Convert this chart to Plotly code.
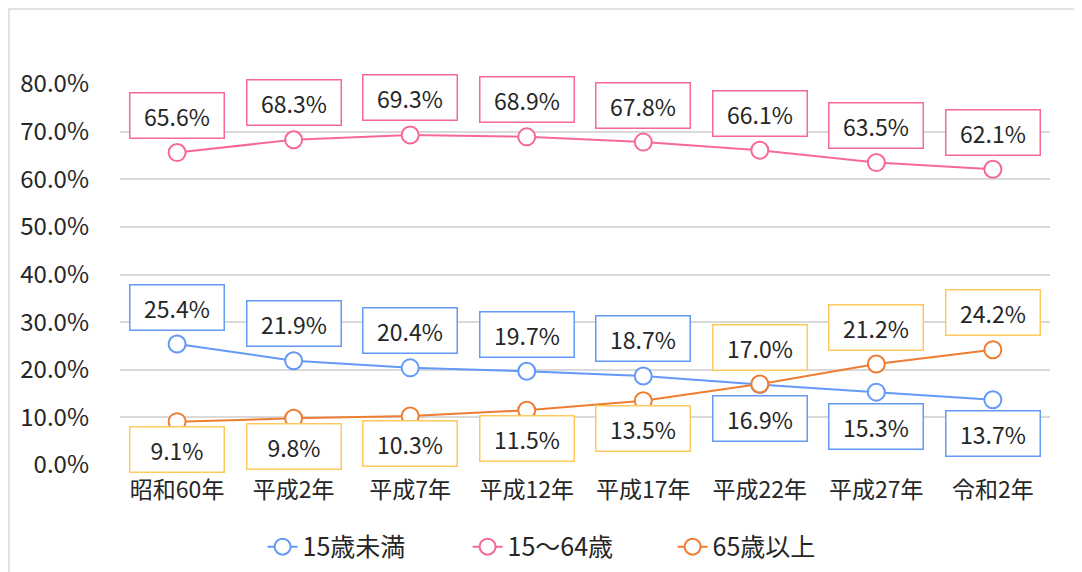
import plotly.graph_objects as go

categories = ["昭和60年", "平成2年", "平成7年", "平成12年", "平成17年", "平成22年", "平成27年", "令和2年"]
under15 = [25.4, 21.9, 20.4, 19.7, 18.7, 16.9, 15.3, 13.7]
age15_64 = [65.6, 68.3, 69.3, 68.9, 67.8, 66.1, 63.5, 62.1]
over65 = [9.1, 9.8, 10.3, 11.5, 13.5, 17.0, 21.2, 24.2]
series_names = ["15歳未満", "15～64歳", "65歳以上"]
y_ticks = [0, 10, 20, 30, 40, 50, 60, 70, 80]

FONT = "Noto Sans CJK JP"
line_colors = ["#6399F7", "#F7689A", "#EE7D31"]
box_colors = ["#6399F7", "#F7689A", "#FFC95E"]

fig = go.Figure()
all_series = [under15, age15_64, over65]
for name, vals, col in zip(series_names, all_series, line_colors):
    fig.add_trace(go.Scatter(
        x=categories, y=vals, name=name, mode="lines+markers",
        line=dict(color=col, width=2),
        marker=dict(symbol="circle", size=17, color="white", line=dict(color=col, width=2)),
        cliponaxis=False,
    ))

# data labels
for si, vals in enumerate(all_series):
    for i, v in enumerate(vals):
        if si == 1:
            above = True
        elif si == 0:
            above = under15[i] > over65[i]
        else:
            above = over65[i] > under15[i]
        if above:
            shift = 37
        else:
            shift = -34 if si == 0 else -28
        fig.add_annotation(
            x=categories[i], y=v, xref="x", yref="y",
            text=f"{v:.1f}%", showarrow=False, yshift=shift,
            font=dict(family=FONT, size=23, color="#262626"),
            bgcolor="white", bordercolor=box_colors[si], borderwidth=1.5,
            width=89, height=40, borderpad=2,
        )

# page body has an 8px offset; figure sized to fit the window
W, H = 1074, 564
L, T = 112, 76
R = W - 1042
B = H - 457
pw, ph = W - L - R, H - T - B
fig.add_shape(type="rect", xref="paper", yref="paper",
              x0=(1 - L) / pw, x1=(W + 20 - L) / pw,
              y0=-(H + 20 - (H - B)) / ph, y1=(H - B - 1) / ph,
              line=dict(color="#D9D9D9", width=1.5), fillcolor="rgba(0,0,0,0)", layer="below")

fig.update_layout(
    width=W, height=H,
    margin=dict(l=L, r=R, t=T, b=B, autoexpand=False),
    paper_bgcolor="white", plot_bgcolor="white",
    font=dict(family=FONT, size=22, color="#262626"),
    showlegend=True,
    legend=dict(orientation="h", x=0.484, xanchor="center", y=-0.215, yanchor="middle",
                font=dict(family=FONT, size=25, color="#262626"),
                entrywidth=160, entrywidthmode="pixels",
                tracegroupgap=0),
    xaxis=dict(showgrid=False, showline=False, zeroline=False, ticks="",
               tickfont=dict(family=FONT, size=23), ticklabelstandoff=9),
    yaxis=dict(range=[0, 80], tickvals=y_ticks, ticktext=[f"{t:.1f}%" for t in y_ticks],
               showgrid=True, gridcolor="#D9D9D9", gridwidth=1.5, zeroline=False,
               showline=False, ticks="", tickfont=dict(family=FONT, size=24),
               ticklabelstandoff=30),
)

fig.write_html("out.html")
